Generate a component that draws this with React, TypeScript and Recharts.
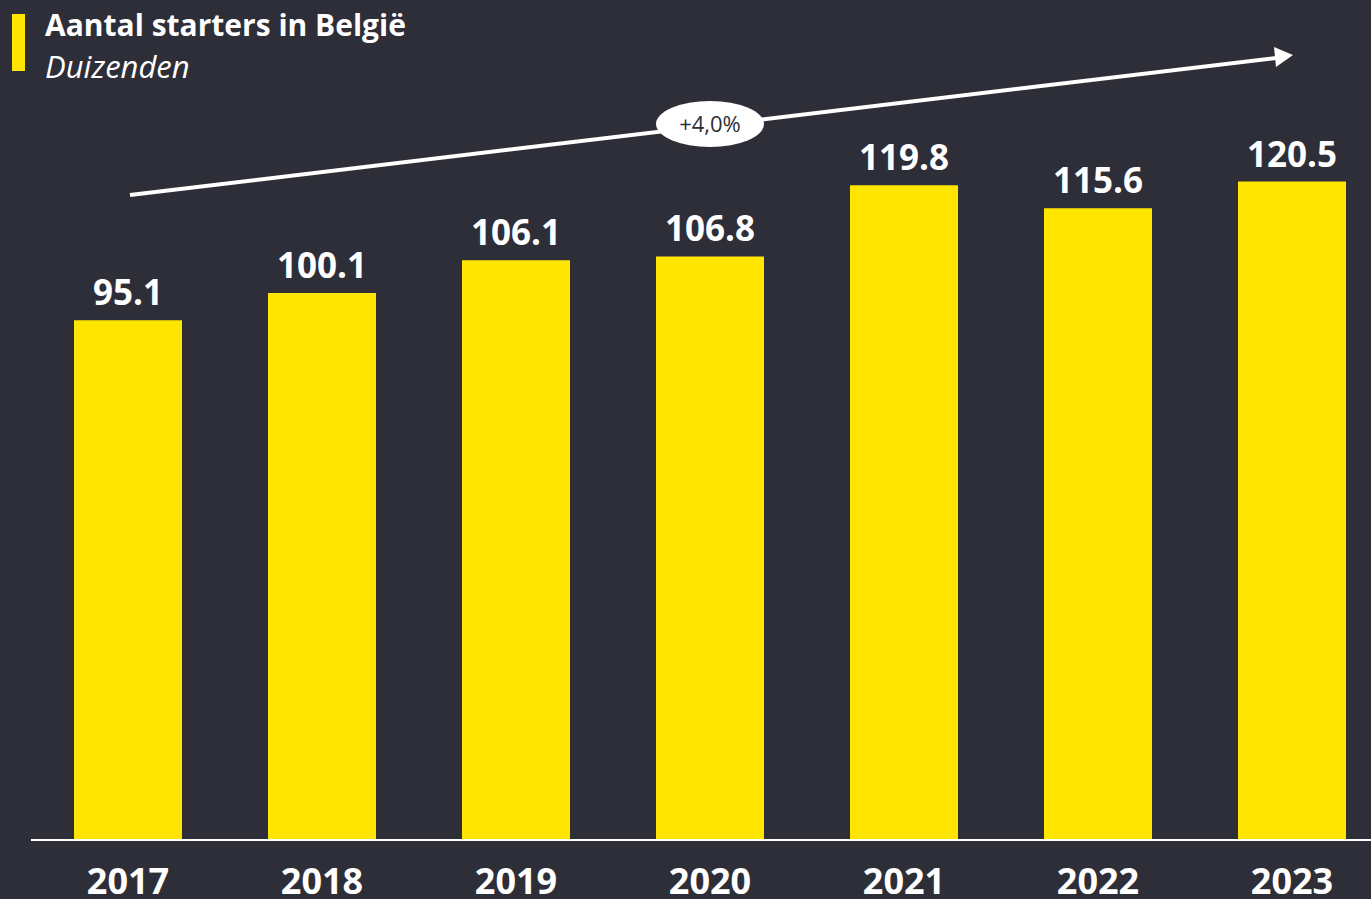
import React from 'react';
import { BarChart, Bar, XAxis, YAxis, LabelList } from 'recharts';

const years = ['2017', '2018', '2019', '2020', '2021', '2022', '2023'];
const starters = [95.1, 100.1, 106.1, 106.8, 119.8, 115.6, 120.5];
const growthLabel = '+4,0%';

const data = years.map((year, i) => ({ year, value: starters[i] }));

const BG = '#2e2e38';
const YELLOW = '#ffe600';
const FONT = '"Open Sans", "Noto Sans", sans-serif';

const App: React.FC = () => {
  return (
    <div
      style={{
        position: 'fixed',
        left: 0,
        top: 0,
        width: 1371,
        height: 899,
        overflow: 'hidden',
        background: BG,
        fontFamily: FONT,
      }}
    >
      <div style={{ position: 'absolute', left: 12, top: 14, width: 13, height: 57, background: YELLOW }} />
      <div style={{ position: 'absolute', left: 45, top: 5, color: '#fff', fontWeight: 700, fontSize: 30, lineHeight: '40px', whiteSpace: 'nowrap' }}>
        Aantal starters in België
      </div>
      <div style={{ position: 'absolute', left: 45, top: 46, color: '#fff', fontStyle: 'italic', fontSize: 31, lineHeight: '40px', whiteSpace: 'nowrap' }}>
        Duizenden
      </div>

      <div style={{ position: 'absolute', left: 0, top: 0 }}>
        <BarChart
          width={1389}
          height={899}
          data={data}
          margin={{ top: 129.6, right: 0, bottom: 0, left: 31 }}
          barSize={108}
        >
          <XAxis
            dataKey="year"
            height={59}
            axisLine={{ stroke: '#ffffff', strokeWidth: 2 }}
            tickLine={false}
            tickSize={0}
            tickMargin={28}
            tick={{ fill: '#ffffff', fontSize: 36, fontWeight: 700, fontFamily: FONT }}
            interval={0}
          />
          <YAxis hide domain={[0, 130]} />
          <Bar dataKey="value" fill={YELLOW} isAnimationActive={false}>
            <LabelList
              dataKey="value"
              position="top"
              offset={15}
              formatter={(v: any) => Number(v).toFixed(1)}
              style={{ fill: '#ffffff', fontSize: 35, fontWeight: 700, fontFamily: FONT }}
            />
          </Bar>
        </BarChart>
      </div>

      <svg width={1371} height={899} style={{ position: 'absolute', left: 0, top: 0, pointerEvents: 'none' }}>
        <line x1={130} y1={195} x2={1276} y2={58} stroke="#fff" strokeWidth={4} />
        <polygon points="1293,55 1274,47 1276,67" fill="#fff" />
        <ellipse cx={710} cy={124} rx={54} ry={23} fill="#fff" />
        <text x={710} y={132} textAnchor="middle" fontSize={22} fill={BG} fontFamily={FONT}>
          {growthLabel}
        </text>
      </svg>
    </div>
  );
};

export default App;
